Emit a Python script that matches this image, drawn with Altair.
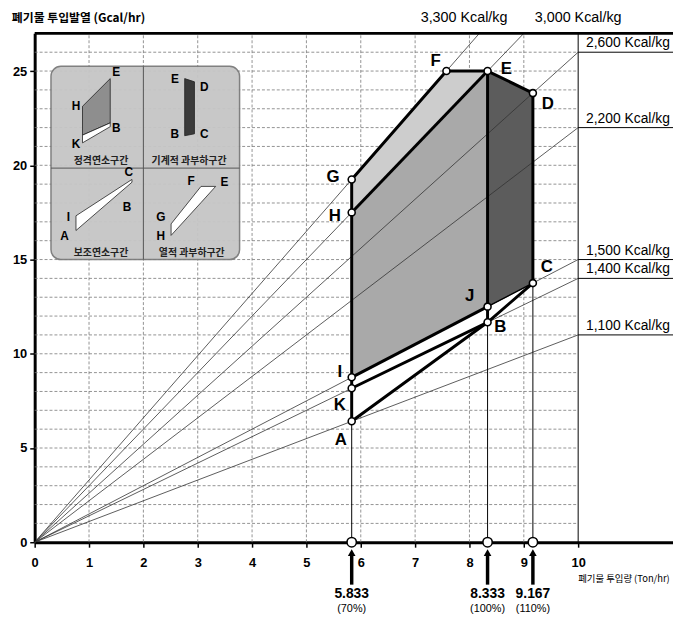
import altair as alt
import pandas as pd

# ---------------- data ----------------
X_MAX = 11.745
Y_MAX = 27.0

x_ticks = [0, 1, 2, 3, 4, 5, 6, 7, 8, 9, 10]
y_ticks = [0, 5, 10, 15, 20, 25]
grid_x = [1, 2, 3, 4, 5, 6, 7, 8, 9]
grid_y = list(range(1, 27))

kcal = [3300, 3000, 2600, 2200, 1500, 1400, 1100]
kcal_text = ["3,300 Kcal/kg", "3,000 Kcal/kg", "2,600 Kcal/kg", "2,200 Kcal/kg",
             "1,500 Kcal/kg", "1,400 Kcal/kg", "1,100 Kcal/kg"]
top_label_x = [7.9, 10.0]          # labels of the two lines that leave through the top

pt_name = ["A", "K", "I", "H", "G", "F", "E", "D", "C", "B", "J"]
pt_x = [5.833, 5.833, 5.833, 5.833, 5.833, 7.576, 8.333, 9.167, 9.167, 8.333, 8.333]
pt_y = [6.42, 8.17, 8.75, 17.5, 19.25, 25.0, 25.0, 23.83, 13.75, 11.67, 12.5]

feed_x = [5.833, 8.333, 9.167]
feed_top = [6.42, 11.67, 13.75]
feed_value = ["5.833", "8.333", "9.167"]
feed_pct = ["(70%)", "(100%)", "(110%)"]

# zones (x, upper bound, lower bound)
thermal_x = [5.833, 7.576, 8.333]; thermal_top = [19.25, 25.0, 25.0]; thermal_bot = [17.5, 22.73, 25.0]
rated_x = [5.833, 8.333];          rated_top = [17.5, 25.0];          rated_bot = [8.75, 12.5]
mech_x = [8.333, 9.167];           mech_top = [25.0, 23.83];          mech_bot = [12.5, 13.75]
aux_x = [5.833, 8.333, 9.167];     aux_top = [8.75, 12.5, 13.75];     aux_bot = [6.42, 11.67, 13.75]

thick_paths = [["A", "K", "I", "H", "G", "F", "E", "D", "C", "B", "A"],
               ["H", "E"], ["E", "J"], ["I", "J"], ["K", "B"], ["J", "B"]]
thin_paths = [["J", "C"]]

# inset legend
inset_box = [0.30, 3.77, 15.0, 25.25]
inset_mid = [2.0, 19.85]
zone_names = ["정격연소구간", "기계적 과부하구간", "보조연소구간", "열적 과부하구간"]
zone_name_x = [1.22, 2.84, 1.22, 2.89]
zone_name_y = [20.22, 20.22, 15.33, 15.33]

mini_areas = [
    ([0.88, 1.39], [23.13, 24.6], [21.6, 22.25], "#8e8e8e"),
    ([0.88, 1.39], [21.6, 22.25], [21.19, 22.05], "#ffffff"),
    ([2.76, 2.94], [24.6, 24.43], [21.57, 21.67], "#3a3a3a"),
    ([0.76, 1.79], [17.32, 19.25], [16.54, 19.1], "#ffffff"),
    ([2.51, 3.06, 3.33], [16.89, 18.88, 18.88], [16.28, 18.02, 18.88], "#ffffff"),
]
mini_lbl = ["E", "H", "B", "K", "E", "D", "B", "C", "C", "I", "B", "A", "F", "E", "G", "H"]
mini_lbl_x = [1.50, 0.76, 1.50, 0.76, 2.58, 3.12, 2.58, 3.12, 1.73, 0.62, 1.70, 0.55, 2.88, 3.49, 2.32, 2.32]
mini_lbl_y = [24.95, 23.17, 22.0, 21.14, 24.6, 24.13, 21.67, 21.67, 19.66, 17.26, 17.78, 16.23, 19.14, 19.09, 17.24, 16.24]

# ---------------- styling / helpers ----------------
PLOT_W, PLOT_H = 646, 515
PX_X = PLOT_W / X_MAX     # px per x unit
PX_Y = PLOT_H / Y_MAX     # px per y unit
label_off = {"A": (-11, 19), "K": (-12, 17), "I": (-12, -5), "H": (-17, 4), "G": (-19, -2),
             "F": (-11, -10), "E": (19, -2), "D": (15, 11), "C": (14, -16), "B": (13, 5), "J": (-18, -11)}

LAT = "Liberation Sans"
KOR = "Noto Sans CJK KR"

xs = alt.Scale(domain=[0, X_MAX], nice=False, zero=False)
ys = alt.Scale(domain=[0, Y_MAX], nice=False, zero=False)
XAXIS = alt.Axis(values=x_ticks, format="d", title=None, grid=False, labelFont=LAT,
                 labelFontSize=13, labelFontWeight="bold", labelColor="black",
                 tickColor="black", tickSize=5, tickWidth=1.5, domainColor="black",
                 domainWidth=3, labelPadding=10, labelFlush=False)
YAXIS = alt.Axis(values=y_ticks, format="d", title=None, grid=False, labelFont=LAT,
                 labelFontSize=13, labelFontWeight="bold", labelColor="black",
                 tickColor="black", tickSize=5, tickWidth=1.5, domainColor="black",
                 domainWidth=3, labelPadding=3, labelFlush=False)


def X(f):
    return alt.X(f, type="quantitative", scale=xs, axis=XAXIS)


def Y(f):
    return alt.Y(f, type="quantitative", scale=ys, axis=YAXIS)


pts = {n: (x, y) for n, x, y in zip(pt_name, pt_x, pt_y)}

layers = []

# grid
gh = pd.DataFrame({"y": grid_y, "x": 0.0, "x2": 10.0})
layers.append(alt.Chart(gh).mark_rule(color="#777", strokeWidth=0.8, strokeDash=[3, 2])
              .encode(x=X("x"), x2="x2", y=Y("y")))
gv = pd.DataFrame({"x": grid_x, "y": 0.0, "y2": Y_MAX})
layers.append(alt.Chart(gv).mark_rule(color="#777", strokeWidth=0.8, strokeDash=[3, 2])
              .encode(x=X("x"), y=Y("y"), y2="y2"))
layers.append(alt.Chart(pd.DataFrame({"x": [10.0], "y": [0.0], "y2": [Y_MAX]}))
              .mark_rule(color="black", strokeWidth=1).encode(x=X("x"), y=Y("y"), y2="y2"))

# inset legend box
ib = pd.DataFrame({"x": [inset_box[0]], "x2": [inset_box[1]], "y": [inset_box[2]], "y2": [inset_box[3]]})
layers.append(alt.Chart(ib).mark_rect(fill="#c6c6c6", stroke="#7a7a7a", strokeWidth=1.5,
                                      cornerRadius=10, opacity=0.95)
              .encode(x=X("x"), x2="x2", y=Y("y"), y2="y2"))
idv = pd.DataFrame({"x": [inset_mid[0]], "y": [inset_box[2]], "y2": [inset_box[3]]})
layers.append(alt.Chart(idv).mark_rule(color="#555", strokeWidth=1).encode(x=X("x"), y=Y("y"), y2="y2"))
idh = pd.DataFrame({"x": [inset_box[0]], "x2": [inset_box[1]], "y": [inset_mid[1]]})
layers.append(alt.Chart(idh).mark_rule(color="#555", strokeWidth=1).encode(x=X("x"), x2="x2", y=Y("y")))
for mx, mt, mb, col in mini_areas:
    d = pd.DataFrame({"x": mx, "y": mt, "y2": mb})
    layers.append(alt.Chart(d).mark_area(fill=col, stroke="#222", strokeWidth=0.8)
                  .encode(x=X("x"), y=Y("y"), y2="y2"))
ml = pd.DataFrame({"t": mini_lbl, "x": mini_lbl_x, "y": mini_lbl_y})
layers.append(alt.Chart(ml).mark_text(font=LAT, fontSize=12, fontWeight="bold", color="black")
              .encode(x=X("x"), y=Y("y"), text="t:N"))
zn = pd.DataFrame({"t": zone_names, "x": zone_name_x, "y": zone_name_y})
layers.append(alt.Chart(zn).mark_text(font=KOR, fontSize=10, fontWeight="bold", color="#222")
              .encode(x=X("x"), y=Y("y"), text="t:N"))

# zones
for zx, zt, zb, col in [(thermal_x, thermal_top, thermal_bot, "#cdcdcd"),
                        (rated_x, rated_top, rated_bot, "#a9a9a9"),
                        (mech_x, mech_top, mech_bot, "#5c5c5c"),
                        (aux_x, aux_top, aux_bot, "#ffffff")]:
    d = pd.DataFrame({"x": zx, "y": zt, "y2": zb})
    layers.append(alt.Chart(d).mark_area(fill=col, opacity=1).encode(x=X("x"), y=Y("y"), y2="y2"))

# heating value lines from origin
rows = []
lead = []
top_lbl = []
ti = 0
for k, t in zip(kcal, kcal_text):
    s = k / 1000.0
    if s * 10 <= Y_MAX:
        ex, ey = 10.0, s * 10
        lead.append({"x": 10.0, "x2": X_MAX, "y": ey, "t": t})
    else:
        ex, ey = Y_MAX / s, Y_MAX
        top_lbl.append({"x": top_label_x[ti], "y": 27.83, "t": t})
        ti += 1
    rows += [{"k": k, "o": 0, "x": 0.0, "y": 0.0}, {"k": k, "o": 1, "x": ex, "y": ey}]
ol = pd.DataFrame(rows)
layers.append(alt.Chart(ol).mark_line(color="#333", strokeWidth=0.8)
              .encode(x=X("x"), y=Y("y"), detail="k:N", order="o:Q"))
ld = pd.DataFrame(lead)
layers.append(alt.Chart(ld).mark_rule(color="black", strokeWidth=1)
              .encode(x=X("x"), x2="x2", y=Y("y")))
layers.append(alt.Chart(ld).mark_text(font=LAT, fontSize=14, align="left", baseline="bottom",
                                      dx=8, dy=-2, color="black")
              .encode(x=X("x"), y=Y("y"), text="t:N"))
layers.append(alt.Chart(pd.DataFrame(top_lbl)).mark_text(font=LAT, fontSize=14.5, color="black")
              .encode(x=X("x"), y=Y("y"), text="t:N"))

# feed-rate verticals
fv = pd.DataFrame({"x": feed_x, "y": 0.0, "y2": feed_top})
layers.append(alt.Chart(fv).mark_rule(color="black", strokeWidth=1).encode(x=X("x"), y=Y("y"), y2="y2"))

# zone outlines
def path_df(paths):
    r = []
    for i, p in enumerate(paths):
        for j, n in enumerate(p):
            r.append({"p": i, "o": j, "x": pts[n][0], "y": pts[n][1]})
    return pd.DataFrame(r)

layers.append(alt.Chart(path_df(thin_paths)).mark_line(color="black", strokeWidth=1.5)
              .encode(x=X("x"), y=Y("y"), detail="p:N", order="o:Q"))
layers.append(alt.Chart(path_df(thick_paths)).mark_line(color="black", strokeWidth=3, strokeJoin="round")
              .encode(x=X("x"), y=Y("y"), detail="p:N", order="o:Q"))

# points
pdf = pd.DataFrame({"n": pt_name, "x": pt_x, "y": pt_y})
layers.append(alt.Chart(pdf).mark_point(shape="circle", filled=True, fill="white", stroke="black",
                                        strokeWidth=1.6, size=50, opacity=1)
              .encode(x=X("x"), y=Y("y")))
lab = pd.DataFrame({"n": pt_name,
                    "x": [x + label_off[n][0] / PX_X for n, x in zip(pt_name, pt_x)],
                    "y": [y - label_off[n][1] / PX_Y for n, y in zip(pt_name, pt_y)]})
layers.append(alt.Chart(lab).mark_text(font=LAT, fontSize=17, fontWeight="bold", color="black")
              .encode(x=X("x"), y=Y("y"), text="n:N"))

# axis circles, arrows and labels
fa = pd.DataFrame({"x": feed_x, "y": 0.0})
layers.append(alt.Chart(fa).mark_point(shape="circle", filled=True, fill="white", stroke="black",
                                       strokeWidth=1.6, size=90, opacity=1)
              .encode(x=X("x"), y=Y("y")))
arr = pd.DataFrame({"x": feed_x, "y": -2.25, "y2": -0.65})
layers.append(alt.Chart(arr).mark_rule(color="black", strokeWidth=3.5).encode(x=X("x"), y=Y("y"), y2="y2"))
ah = pd.DataFrame({"x": feed_x, "y": -0.55})
layers.append(alt.Chart(ah).mark_point(shape="triangle-up", filled=True, color="black", size=60, opacity=1)
              .encode(x=X("x"), y=Y("y")))
fl = pd.DataFrame({"x": feed_x, "y": -2.75, "t": feed_value})
layers.append(alt.Chart(fl).mark_text(font=LAT, fontSize=14, fontWeight="bold", color="black")
              .encode(x=X("x"), y=Y("y"), text="t:N"))
fp = pd.DataFrame({"x": feed_x, "y": -3.57, "t": feed_pct})
layers.append(alt.Chart(fp).mark_text(font=LAT, fontSize=11, color="black")
              .encode(x=X("x"), y=Y("y"), text="t:N"))

# frame top
layers.append(alt.Chart(pd.DataFrame({"x": [0.0], "x2": [X_MAX], "y": [Y_MAX]}))
              .mark_rule(color="black", strokeWidth=3).encode(x=X("x"), x2="x2", y=Y("y")))

# axis titles
layers.append(alt.Chart(pd.DataFrame({"x": [-0.42], "y": [27.83], "t": ["폐기물 투입발열 (Gcal/hr)"]}))
              .mark_text(font=KOR, fontSize=12, fontWeight="bold", align="left", color="black")
              .encode(x=X("x"), y=Y("y"), text="t:N"))
layers.append(alt.Chart(pd.DataFrame({"x": [10.0], "y": [-1.95], "t": ["폐기물 투입량 (Ton/hr)"]}))
              .mark_text(font=KOR, fontSize=9.5, align="left", color="black")
              .encode(x=X("x"), y=Y("y"), text="t:N"))

chart = alt.layer(*layers).properties(
    width=PLOT_W, height=PLOT_H,
    autosize=alt.AutoSizeParams(type="none"),
    padding={"left": 27, "top": 22, "right": 0, "bottom": 73},
    background="white",
).configure_view(stroke=None)

chart.save("out.html", embed_options={"renderer": "svg", "actions": False})
